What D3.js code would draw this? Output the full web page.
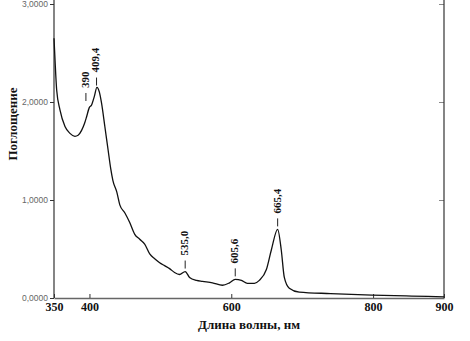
<!DOCTYPE html>
<html>
<head>
<meta charset="utf-8">
<script src="https://cdn.jsdelivr.net/npm/d3@7"></script>
<style>
    body { margin: 0; background: #fff; }
    svg { display: block; }
</style>
</head>
<body>
<div id="chart"></div>
<script>
// Data
var wavelength = [350, 351.5, 353.8, 358.4, 365.5, 372.5, 379.5, 384, 388.9, 393, 396, 399.6, 403,
    407, 410.5, 414, 417, 421.7, 426.3, 430, 433, 438.6, 442.8, 449.8, 456.8, 463.9, 470.9, 477.9,
    485, 492, 499, 506, 513, 520, 527, 535, 541.2, 551, 559.5, 573.5, 587.6, 597.5, 605.6,
    614.3, 622.7, 632.6, 639.6, 649.5, 656.5, 665.4, 670.5, 674.8, 681.8, 695.9, 740, 798.5,
    854.7, 900];
var absorbance = [2.65, 2.42, 2.12, 1.92, 1.75, 1.68, 1.65, 1.66, 1.71, 1.78, 1.85, 1.94, 1.97,
    2.06, 2.15, 2.1, 1.99, 1.75, 1.51, 1.32, 1.2, 1.08, 0.95, 0.87, 0.77, 0.65, 0.6, 0.55,
    0.45, 0.4, 0.36, 0.33, 0.3, 0.26, 0.24, 0.27, 0.21, 0.18, 0.17, 0.155, 0.13, 0.155, 0.19,
    0.18, 0.15, 0.15, 0.18, 0.29, 0.49, 0.70, 0.49, 0.21, 0.10, 0.06, 0.045, 0.03,
    0.02, 0.012];

var xTicks = [350, 400, 600, 800, 900];
var yTicks = [0, 1, 2, 3];

var peakLabels = ["390", "409,4", "535,0", "605,6", "665,4"];
var peakNm = [395, 410, 535, 605.6, 665.4];   // where the marks sit on the curve

var xTitle = "Длина волны, нм";
var yTitle = "Поглощение";

var width = 470, height = 341;
var plotLeft = 54, plotRight = 444, plotBottom = 298, plotTop = 4;

var svg = d3.select("#chart")
    .append("svg")
    .attr("width", width)
    .attr("height", height);

var x = d3.scaleLinear().domain([350, 900]).range([plotLeft, plotRight]);
var y = d3.scaleLinear().domain([0, 3]).range([plotBottom, plotTop]);

var axisColor = "#333";
var serif = "'Liberation Serif', 'Times New Roman', serif";

// bottom axis
var xAxis = svg.append("g")
    .attr("transform", "translate(0," + plotBottom + ")")
    .call(d3.axisBottom(x).tickValues(xTicks).tickSize(-4).tickPadding(4).tickSizeOuter(0));
xAxis.select(".domain").attr("stroke", "#666").attr("stroke-width", 1.6);
xAxis.selectAll(".tick line").attr("stroke", axisColor);
xAxis.selectAll(".tick text")
    .attr("fill", "#111")
    .style("font-family", serif)
    .style("font-weight", "bold")
    .style("font-size", "12px");

// left axis
var yAxis = svg.append("g")
    .attr("transform", "translate(" + plotLeft + ",0)")
    .call(d3.axisLeft(y).tickValues(yTicks).tickSize(4).tickPadding(2).tickSizeOuter(0)
        .tickFormat(function (d) { return d.toFixed(4).replace(".", ","); }));
yAxis.select(".domain").remove();
yAxis.selectAll(".tick line").attr("stroke", axisColor);
yAxis.selectAll(".tick text")
    .attr("fill", "#666")
    .style("font-family", "'Liberation Sans', Arial, sans-serif")
    .style("font-size", "8.5px");

svg.append("line")
    .attr("x1", plotLeft).attr("x2", plotLeft)
    .attr("y1", 0).attr("y2", plotBottom)
    .attr("stroke", axisColor).attr("stroke-width", 1.2);

// right axis, ticks inside
var rAxis = svg.append("g")
    .attr("transform", "translate(" + plotRight + ",0)")
    .call(d3.axisRight(y).tickValues(yTicks.slice(1)).tickSize(-5).tickFormat("").tickSizeOuter(0));
rAxis.select(".domain").remove();
rAxis.selectAll(".tick line").attr("stroke", "#888");

svg.append("line")
    .attr("x1", plotRight).attr("x2", plotRight)
    .attr("y1", 0).attr("y2", plotBottom)
    .attr("stroke", axisColor).attr("stroke-width", 1.2);

// spectrum
var points = wavelength.map(function (w, i) { return [w, absorbance[i]]; });
var line = d3.line()
    .x(function (d) { return x(d[0]); })
    .y(function (d) { return y(d[1]); })
    .curve(d3.curveMonotoneX);

svg.append("path")
    .datum(points)
    .attr("d", line)
    .attr("fill", "none")
    .attr("stroke", "#111")
    .attr("stroke-width", 1.3);

// peak marks
var valueAt = function (w) {
    var i = d3.bisectLeft(wavelength, w);
    if (i <= 0) return absorbance[0];
    var t = (w - wavelength[i - 1]) / (wavelength[i] - wavelength[i - 1]);
    return absorbance[i - 1] + t * (absorbance[i] - absorbance[i - 1]);
};

peakNm.forEach(function (w, i) {
    var px = x(w), py = y(valueAt(w));
    if (i === 0) py -= 15;   // shoulder label sits a bit higher
    svg.append("line")
        .attr("x1", px).attr("x2", px)
        .attr("y1", py - 3).attr("y2", py - 11)
        .attr("stroke", "#222").attr("stroke-width", 1);
    svg.append("text")
        .attr("transform", "translate(" + (px - 1) + "," + (py - 16) + ") rotate(-90)")
        .attr("dy", "0.35em")
        .attr("fill", "#111")
        .style("font-family", serif)
        .style("font-weight", "bold")
        .style("font-size", "11px")
        .text(peakLabels[i]);
});

// titles
svg.append("text")
    .attr("x", 249).attr("y", 329)
    .attr("text-anchor", "middle")
    .attr("fill", "#111")
    .style("font-family", serif)
    .style("font-weight", "bold")
    .style("font-size", "13px")
    .text(xTitle);

svg.append("text")
    .attr("transform", "translate(17,124) rotate(-90)")
    .attr("text-anchor", "middle")
    .attr("fill", "#111")
    .style("font-family", serif)
    .style("font-weight", "bold")
    .style("font-size", "13px")
    .text(yTitle);
</script>
</body>
</html>
